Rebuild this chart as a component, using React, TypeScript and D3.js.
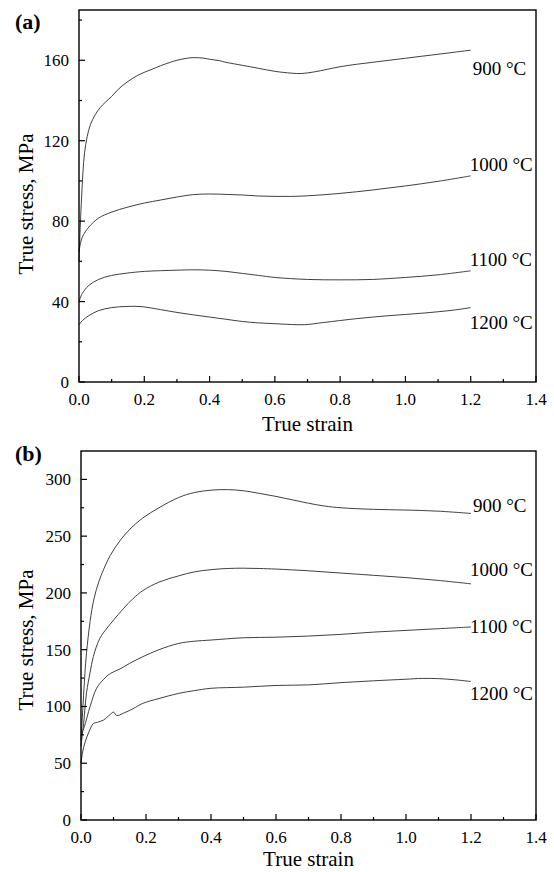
import React from "react";
import * as d3 from "d3";

type Pt = [number, number];

// ---------- data ----------
const temperatures = ["900 °C", "1000 °C", "1100 °C", "1200 °C"];
const strainTicks = [0, 0.2, 0.4, 0.6, 0.8, 1.0, 1.2, 1.4];
const strainMinor = [0.1, 0.3, 0.5, 0.7, 0.9, 1.1, 1.3];

// panel (a)
const aStressTicks = [0, 40, 80, 120, 160];
const aStressMinor = [20, 60, 100, 140, 180];
const a900: Pt[] = [[0,60],[0.004,78],[0.008,92],[0.012,104],[0.017,114],[0.025,122],[0.035,128],[0.05,133],[0.065,136.5],[0.08,139],[0.1,142],[0.12,145.5],[0.15,149.5],[0.18,152.5],[0.2,154],[0.22,155.3],[0.25,157.3],[0.28,159],[0.3,160],[0.33,161],[0.35,161.3],[0.38,161.1],[0.4,160.5],[0.43,159.8],[0.45,159],[0.5,157.5],[0.55,156],[0.6,154.5],[0.65,153.6],[0.68,153.4],[0.72,154.2],[0.76,155.5],[0.8,156.8],[0.85,158],[0.9,159],[0.95,160],[1.0,161],[1.05,162],[1.1,163],[1.15,164],[1.2,165]];
const a1000: Pt[] = [[0,65],[0.01,72],[0.03,77],[0.06,81.5],[0.1,84.5],[0.15,87],[0.2,89],[0.25,90.5],[0.3,92],[0.35,93.2],[0.4,93.5],[0.45,93.3],[0.5,93],[0.55,92.5],[0.6,92.3],[0.65,92.3],[0.7,92.6],[0.8,93.8],[0.9,95.5],[1.0,97.5],[1.1,99.8],[1.2,102.5]];
const a1100: Pt[] = [[0,40],[0.01,44],[0.03,48],[0.06,51],[0.1,53],[0.15,54.2],[0.2,55],[0.3,55.6],[0.35,55.8],[0.4,55.6],[0.45,55],[0.5,54],[0.55,53],[0.6,52],[0.7,51],[0.8,50.8],[0.9,51],[1.0,52],[1.1,53.3],[1.2,55.3]];
const a1200: Pt[] = [[0,28.5],[0.01,30.5],[0.03,33],[0.06,35.5],[0.1,37],[0.15,37.6],[0.19,37.5],[0.25,36],[0.3,34.6],[0.35,33.4],[0.4,32.3],[0.45,31.2],[0.5,30.1],[0.55,29.4],[0.6,29],[0.65,28.6],[0.69,28.5],[0.75,29.6],[0.85,31.5],[0.95,33],[1.05,34.2],[1.15,35.8],[1.2,37]];
const aLabelStress = [152.9, 105, 57.8, 26.4];

// panel (b)
const bStressTicks = [0, 50, 100, 150, 200, 250, 300];
const bStressMinor = [25, 75, 125, 175, 225, 275];
const b900: Pt[] = [[0,70],[0.004,90],[0.008,110],[0.012,129],[0.017,147],[0.028,175],[0.04,195],[0.055,210],[0.07,221],[0.09,233],[0.12,246],[0.15,256],[0.19,266],[0.24,275],[0.3,284],[0.35,288.5],[0.4,290.5],[0.45,291],[0.5,290],[0.55,287.6],[0.6,285],[0.65,282],[0.7,279],[0.75,276.5],[0.8,275],[0.9,273.6],[1.0,273],[1.1,272],[1.2,270]];
const b1000: Pt[] = [[0,65],[0.008,85],[0.017,112],[0.028,130],[0.038,144],[0.058,160],[0.08,169],[0.1,176],[0.13,186],[0.16,195],[0.19,202],[0.24,209.5],[0.3,215],[0.35,218.6],[0.4,220.5],[0.45,221.5],[0.5,221.8],[0.55,221.5],[0.6,221],[0.7,219.5],[0.8,217.5],[0.9,215.5],[1.0,213.5],[1.1,211],[1.2,208]];
const b1100: Pt[] = [[0,75],[0.01,82],[0.028,100],[0.048,116],[0.07,124],[0.09,129],[0.12,133],[0.15,138],[0.19,143.8],[0.24,150],[0.3,155.5],[0.35,157.5],[0.4,158.5],[0.5,160.5],[0.6,161],[0.7,162],[0.8,163.5],[0.9,165.5],[1.0,167],[1.1,168.5],[1.2,170]];
const b1200: Pt[] = [[0,50],[0.005,60],[0.012,68],[0.025,78],[0.038,85],[0.05,86],[0.069,88],[0.09,93],[0.1,95],[0.11,92],[0.13,94],[0.16,98],[0.19,102.7],[0.24,107],[0.3,111.5],[0.35,114],[0.4,116],[0.5,117],[0.6,118.5],[0.7,119],[0.8,121],[0.9,122.6],[1.0,124],[1.05,124.7],[1.1,124.5],[1.15,123.5],[1.2,122]];
const bLabelStress = [271, 214.8, 164.6, 105.6];

const FONT = "'Liberation Serif', 'DejaVu Serif', serif";

interface PanelProps {
  tag: string;
  left: number; right: number; top: number; bottom: number;
  yMax: number;
  yTicks: number[]; yMinor: number[];
  series: Pt[][];
  labelStress: number[];
  tagY: number;
  yTitleY: number;
  xTitleY: number;
}

function Panel(p: PanelProps) {
  const x = d3.scaleLinear().domain([0, 1.4]).range([p.left, p.right]);
  const y = d3.scaleLinear().domain([0, p.yMax]).range([p.bottom, p.top]);
  const line = d3.line<Pt>().x((d) => x(d[0])).y((d) => y(d[1])).curve(d3.curveCatmullRom.alpha(0.5));
  const fmtX = d3.format(".1f");
  const major = 6, minor = 3;
  return (
    <g>
      {p.series.map((s, i) => (
        <path key={i} d={line(s) || ""} fill="none" stroke="#2a2a2a" strokeWidth={0.9} />
      ))}
      <rect x={p.left} y={p.top} width={p.right - p.left} height={p.bottom - p.top}
        fill="none" stroke="#000" strokeWidth={1.4} />
      {strainTicks.map((t) => (
        <g key={"xt" + t}>
          <line x1={x(t)} x2={x(t)} y1={p.bottom} y2={p.bottom - major} stroke="#000" strokeWidth={1.2} />
          <text x={x(t)} y={p.bottom + 23} textAnchor="middle" fontSize={17} fontFamily={FONT}>{fmtX(t)}</text>
        </g>
      ))}
      {strainMinor.map((t) => (
        <line key={"xm" + t} x1={x(t)} x2={x(t)} y1={p.bottom} y2={p.bottom - minor} stroke="#000" strokeWidth={1.2} />
      ))}
      {p.yTicks.map((t) => (
        <g key={"yt" + t}>
          <line x1={p.left} x2={p.left + major} y1={y(t)} y2={y(t)} stroke="#000" strokeWidth={1.2} />
          <text x={p.left - 10} y={y(t) + 6} textAnchor="end" fontSize={17} fontFamily={FONT}>{t}</text>
        </g>
      ))}
      {p.yMinor.map((t) => (
        <line key={"ym" + t} x1={p.left} x2={p.left + minor} y1={y(t)} y2={y(t)} stroke="#000" strokeWidth={1.2} />
      ))}
      {temperatures.map((lab, i) => (
        <text key={lab} x={x(1.2) + (i === 0 ? 2 : -1)} y={y(p.labelStress[i])} fontSize={19} fontFamily={FONT}>{lab}</text>
      ))}
      <text x={(p.left + p.right) / 2} y={p.xTitleY} textAnchor="middle" fontSize={21} fontFamily={FONT}>True strain</text>
      <text transform={`translate(33, ${p.yTitleY}) rotate(-90)`} textAnchor="middle" fontSize={21} fontFamily={FONT}>True stress, MPa</text>
      <text x={15} y={p.tagY} fontSize={22} fontWeight="bold" fontFamily={FONT}>{p.tag}</text>
    </g>
  );
}

export default function App() {
  return (
    <svg width={554} height={872} style={{ position: "absolute", left: 0, top: 0, background: "#fff" }}>
      <rect width={554} height={872} fill="#fff" />
      <Panel tag="(a)" left={79} right={536} top={10} bottom={382} yMax={185}
        yTicks={aStressTicks} yMinor={aStressMinor}
        series={[a900, a1000, a1100, a1200]} labelStress={aLabelStress}
        tagY={29} yTitleY={204} xTitleY={431} />
      <Panel tag="(b)" left={81} right={536} top={451} bottom={820} yMax={325}
        yTicks={bStressTicks} yMinor={bStressMinor}
        series={[b900, b1000, b1100, b1200]} labelStress={bLabelStress}
        tagY={461} yTitleY={640} xTitleY={866} />
    </svg>
  );
}
